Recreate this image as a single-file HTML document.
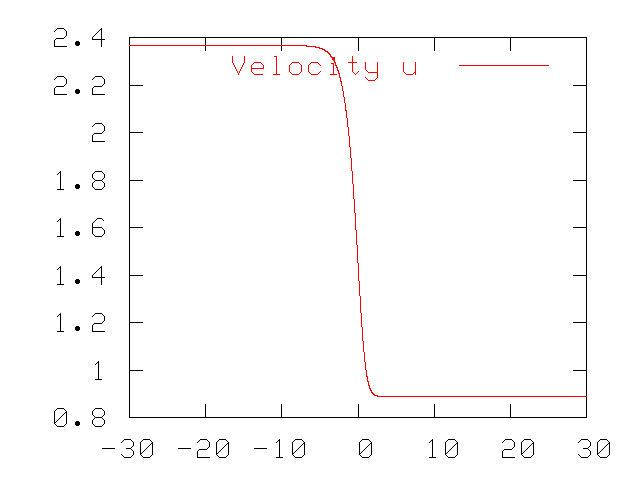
<!DOCTYPE html>
<html><head><meta charset="utf-8"><title>Velocity u</title>
<style>html,body{margin:0;padding:0;background:#fff;overflow:hidden}svg{display:block}</style></head>
<body><svg width="640" height="480" viewBox="0 0 640 480" shape-rendering="crispEdges">
<rect width="640" height="480" fill="#ffffff"/>
<path fill="#000000" d="M57 28h7v1h-7zM101 28h1v1h-1zM56 29h1v1h-1zM64 29h1v1h-1zM100 29h2v1h-2zM55 30h1v1h-1zM65 30h1v1h-1zM99 30h1v1h-1zM101 30h1v1h-1zM54 31h1v1h-1zM66 31h1v1h-1zM98 31h1v1h-1zM101 31h1v1h-1zM66 32h1v1h-1zM97 32h1v1h-1zM101 32h1v1h-1zM66 33h1v1h-1zM96 33h1v1h-1zM101 33h1v1h-1zM66 34h1v1h-1zM95 34h1v1h-1zM101 34h1v1h-1zM66 35h1v1h-1zM94 35h1v1h-1zM101 35h1v1h-1zM65 36h1v1h-1zM93 36h1v1h-1zM101 36h1v1h-1zM64 37h1v1h-1zM92 37h1v1h-1zM101 37h1v1h-1zM129 37h458v1h-458zM56 38h8v1h-8zM92 38h1v1h-1zM101 38h1v1h-1zM129 38h1v1h-1zM205 38h1v1h-1zM281 38h1v1h-1zM358 38h1v1h-1zM434 38h1v1h-1zM510 38h1v1h-1zM586 38h1v1h-1zM55 39h1v1h-1zM92 39h13v1h-13zM129 39h1v1h-1zM205 39h1v1h-1zM281 39h1v1h-1zM358 39h1v1h-1zM434 39h1v1h-1zM510 39h1v1h-1zM586 39h1v1h-1zM54 40h1v1h-1zM101 40h1v1h-1zM129 40h1v1h-1zM205 40h1v1h-1zM281 40h1v1h-1zM358 40h1v1h-1zM434 40h1v1h-1zM510 40h1v1h-1zM586 40h1v1h-1zM54 41h1v1h-1zM76 41h3v1h-3zM101 41h1v1h-1zM129 41h1v1h-1zM205 41h1v1h-1zM281 41h1v1h-1zM358 41h1v1h-1zM434 41h1v1h-1zM510 41h1v1h-1zM586 41h1v1h-1zM54 42h1v1h-1zM75 42h5v1h-5zM101 42h1v1h-1zM129 42h1v1h-1zM205 42h1v1h-1zM281 42h1v1h-1zM358 42h1v1h-1zM434 42h1v1h-1zM510 42h1v1h-1zM586 42h1v1h-1zM54 43h1v1h-1zM75 43h5v1h-5zM101 43h1v1h-1zM129 43h1v1h-1zM205 43h1v1h-1zM281 43h1v1h-1zM358 43h1v1h-1zM434 43h1v1h-1zM510 43h1v1h-1zM586 43h1v1h-1zM54 44h1v1h-1zM75 44h5v1h-5zM101 44h1v1h-1zM129 44h1v1h-1zM205 44h1v1h-1zM281 44h1v1h-1zM358 44h1v1h-1zM434 44h1v1h-1zM510 44h1v1h-1zM586 44h1v1h-1zM54 45h1v1h-1zM76 45h3v1h-3zM101 45h1v1h-1zM358 45h1v1h-1zM434 45h1v1h-1zM510 45h1v1h-1zM586 45h1v1h-1zM54 46h13v1h-13zM101 46h1v1h-1zM129 46h1v1h-1zM205 46h1v1h-1zM281 46h1v1h-1zM358 46h1v1h-1zM434 46h1v1h-1zM510 46h1v1h-1zM586 46h1v1h-1zM129 47h1v1h-1zM205 47h1v1h-1zM281 47h1v1h-1zM358 47h1v1h-1zM434 47h1v1h-1zM510 47h1v1h-1zM586 47h1v1h-1zM129 48h1v1h-1zM205 48h1v1h-1zM281 48h1v1h-1zM358 48h1v1h-1zM434 48h1v1h-1zM510 48h1v1h-1zM586 48h1v1h-1zM129 49h1v1h-1zM205 49h1v1h-1zM281 49h1v1h-1zM358 49h1v1h-1zM434 49h1v1h-1zM510 49h1v1h-1zM586 49h1v1h-1zM129 50h1v1h-1zM205 50h1v1h-1zM281 50h1v1h-1zM358 50h1v1h-1zM434 50h1v1h-1zM510 50h1v1h-1zM586 50h1v1h-1zM129 51h1v1h-1zM586 51h1v1h-1zM129 52h1v1h-1zM586 52h1v1h-1zM129 53h1v1h-1zM586 53h1v1h-1zM129 54h1v1h-1zM586 54h1v1h-1zM129 55h1v1h-1zM586 55h1v1h-1zM129 56h1v1h-1zM586 56h1v1h-1zM129 57h1v1h-1zM586 57h1v1h-1zM129 58h1v1h-1zM586 58h1v1h-1zM129 59h1v1h-1zM586 59h1v1h-1zM129 60h1v1h-1zM586 60h1v1h-1zM129 61h1v1h-1zM586 61h1v1h-1zM129 62h1v1h-1zM586 62h1v1h-1zM129 63h1v1h-1zM586 63h1v1h-1zM129 64h1v1h-1zM586 64h1v1h-1zM129 65h1v1h-1zM586 65h1v1h-1zM129 66h1v1h-1zM586 66h1v1h-1zM129 67h1v1h-1zM586 67h1v1h-1zM129 68h1v1h-1zM586 68h1v1h-1zM129 69h1v1h-1zM586 69h1v1h-1zM129 70h1v1h-1zM586 70h1v1h-1zM129 71h1v1h-1zM586 71h1v1h-1zM129 72h1v1h-1zM586 72h1v1h-1zM129 73h1v1h-1zM586 73h1v1h-1zM129 74h1v1h-1zM586 74h1v1h-1zM129 75h1v1h-1zM586 75h1v1h-1zM57 76h7v1h-7zM95 76h7v1h-7zM129 76h1v1h-1zM586 76h1v1h-1zM56 77h1v1h-1zM64 77h1v1h-1zM94 77h1v1h-1zM102 77h1v1h-1zM129 77h1v1h-1zM586 77h1v1h-1zM55 78h1v1h-1zM65 78h1v1h-1zM93 78h1v1h-1zM103 78h1v1h-1zM129 78h1v1h-1zM586 78h1v1h-1zM54 79h1v1h-1zM66 79h1v1h-1zM92 79h1v1h-1zM104 79h1v1h-1zM129 79h1v1h-1zM586 79h1v1h-1zM66 80h1v1h-1zM104 80h1v1h-1zM129 80h1v1h-1zM586 80h1v1h-1zM66 81h1v1h-1zM104 81h1v1h-1zM129 81h1v1h-1zM586 81h1v1h-1zM66 82h1v1h-1zM104 82h1v1h-1zM129 82h1v1h-1zM586 82h1v1h-1zM66 83h1v1h-1zM104 83h1v1h-1zM129 83h1v1h-1zM586 83h1v1h-1zM65 84h1v1h-1zM103 84h1v1h-1zM129 84h1v1h-1zM586 84h1v1h-1zM64 85h1v1h-1zM102 85h1v1h-1zM129 85h14v1h-14zM573 85h14v1h-14zM56 86h8v1h-8zM94 86h8v1h-8zM129 86h1v1h-1zM586 86h1v1h-1zM55 87h1v1h-1zM93 87h1v1h-1zM129 87h1v1h-1zM586 87h1v1h-1zM54 88h1v1h-1zM92 88h1v1h-1zM129 88h1v1h-1zM586 88h1v1h-1zM54 89h1v1h-1zM76 89h3v1h-3zM92 89h1v1h-1zM129 89h1v1h-1zM586 89h1v1h-1zM54 90h1v1h-1zM75 90h5v1h-5zM92 90h1v1h-1zM129 90h1v1h-1zM586 90h1v1h-1zM54 91h1v1h-1zM75 91h5v1h-5zM92 91h1v1h-1zM129 91h1v1h-1zM586 91h1v1h-1zM54 92h1v1h-1zM75 92h5v1h-5zM92 92h1v1h-1zM129 92h1v1h-1zM586 92h1v1h-1zM54 93h1v1h-1zM76 93h3v1h-3zM92 93h1v1h-1zM129 93h1v1h-1zM586 93h1v1h-1zM54 94h13v1h-13zM92 94h13v1h-13zM129 94h1v1h-1zM586 94h1v1h-1zM129 95h1v1h-1zM586 95h1v1h-1zM129 96h1v1h-1zM586 96h1v1h-1zM129 97h1v1h-1zM586 97h1v1h-1zM129 98h1v1h-1zM586 98h1v1h-1zM129 99h1v1h-1zM586 99h1v1h-1zM129 100h1v1h-1zM586 100h1v1h-1zM129 101h1v1h-1zM586 101h1v1h-1zM129 102h1v1h-1zM586 102h1v1h-1zM129 103h1v1h-1zM586 103h1v1h-1zM129 104h1v1h-1zM586 104h1v1h-1zM129 105h1v1h-1zM586 105h1v1h-1zM129 106h1v1h-1zM586 106h1v1h-1zM129 107h1v1h-1zM586 107h1v1h-1zM129 108h1v1h-1zM586 108h1v1h-1zM129 109h1v1h-1zM586 109h1v1h-1zM129 110h1v1h-1zM586 110h1v1h-1zM129 111h1v1h-1zM586 111h1v1h-1zM129 112h1v1h-1zM586 112h1v1h-1zM129 113h1v1h-1zM586 113h1v1h-1zM129 114h1v1h-1zM586 114h1v1h-1zM129 115h1v1h-1zM586 115h1v1h-1zM129 116h1v1h-1zM586 116h1v1h-1zM129 117h1v1h-1zM586 117h1v1h-1zM129 118h1v1h-1zM586 118h1v1h-1zM129 119h1v1h-1zM586 119h1v1h-1zM129 120h1v1h-1zM586 120h1v1h-1zM129 121h1v1h-1zM586 121h1v1h-1zM129 122h1v1h-1zM586 122h1v1h-1zM95 123h7v1h-7zM129 123h1v1h-1zM586 123h1v1h-1zM94 124h1v1h-1zM102 124h1v1h-1zM129 124h1v1h-1zM586 124h1v1h-1zM93 125h1v1h-1zM103 125h1v1h-1zM129 125h1v1h-1zM586 125h1v1h-1zM92 126h1v1h-1zM104 126h1v1h-1zM129 126h1v1h-1zM586 126h1v1h-1zM104 127h1v1h-1zM129 127h1v1h-1zM586 127h1v1h-1zM104 128h1v1h-1zM129 128h1v1h-1zM586 128h1v1h-1zM104 129h1v1h-1zM129 129h1v1h-1zM586 129h1v1h-1zM104 130h1v1h-1zM129 130h1v1h-1zM586 130h1v1h-1zM103 131h1v1h-1zM129 131h1v1h-1zM586 131h1v1h-1zM102 132h1v1h-1zM129 132h14v1h-14zM573 132h14v1h-14zM94 133h8v1h-8zM129 133h1v1h-1zM586 133h1v1h-1zM93 134h1v1h-1zM129 134h1v1h-1zM586 134h1v1h-1zM92 135h1v1h-1zM129 135h1v1h-1zM586 135h1v1h-1zM92 136h1v1h-1zM129 136h1v1h-1zM586 136h1v1h-1zM92 137h1v1h-1zM129 137h1v1h-1zM586 137h1v1h-1zM92 138h1v1h-1zM129 138h1v1h-1zM586 138h1v1h-1zM92 139h1v1h-1zM129 139h1v1h-1zM586 139h1v1h-1zM92 140h1v1h-1zM129 140h1v1h-1zM586 140h1v1h-1zM92 141h13v1h-13zM129 141h1v1h-1zM586 141h1v1h-1zM129 142h1v1h-1zM586 142h1v1h-1zM129 143h1v1h-1zM586 143h1v1h-1zM129 144h1v1h-1zM586 144h1v1h-1zM129 145h1v1h-1zM586 145h1v1h-1zM129 146h1v1h-1zM586 146h1v1h-1zM129 147h1v1h-1zM586 147h1v1h-1zM129 148h1v1h-1zM586 148h1v1h-1zM129 149h1v1h-1zM586 149h1v1h-1zM129 150h1v1h-1zM586 150h1v1h-1zM129 151h1v1h-1zM586 151h1v1h-1zM129 152h1v1h-1zM586 152h1v1h-1zM129 153h1v1h-1zM586 153h1v1h-1zM129 154h1v1h-1zM586 154h1v1h-1zM129 155h1v1h-1zM586 155h1v1h-1zM129 156h1v1h-1zM586 156h1v1h-1zM129 157h1v1h-1zM586 157h1v1h-1zM129 158h1v1h-1zM586 158h1v1h-1zM129 159h1v1h-1zM586 159h1v1h-1zM129 160h1v1h-1zM586 160h1v1h-1zM129 161h1v1h-1zM586 161h1v1h-1zM129 162h1v1h-1zM586 162h1v1h-1zM129 163h1v1h-1zM586 163h1v1h-1zM129 164h1v1h-1zM586 164h1v1h-1zM129 165h1v1h-1zM586 165h1v1h-1zM129 166h1v1h-1zM586 166h1v1h-1zM129 167h1v1h-1zM586 167h1v1h-1zM129 168h1v1h-1zM586 168h1v1h-1zM129 169h1v1h-1zM586 169h1v1h-1zM129 170h1v1h-1zM586 170h1v1h-1zM60 171h1v1h-1zM95 171h7v1h-7zM129 171h1v1h-1zM586 171h1v1h-1zM59 172h2v1h-2zM94 172h1v1h-1zM102 172h1v1h-1zM129 172h1v1h-1zM586 172h1v1h-1zM58 173h1v1h-1zM60 173h1v1h-1zM93 173h1v1h-1zM103 173h1v1h-1zM129 173h1v1h-1zM586 173h1v1h-1zM57 174h1v1h-1zM60 174h1v1h-1zM92 174h1v1h-1zM104 174h1v1h-1zM129 174h1v1h-1zM586 174h1v1h-1zM60 175h1v1h-1zM92 175h1v1h-1zM104 175h1v1h-1zM129 175h1v1h-1zM586 175h1v1h-1zM60 176h1v1h-1zM92 176h1v1h-1zM104 176h1v1h-1zM129 176h1v1h-1zM586 176h1v1h-1zM60 177h1v1h-1zM92 177h1v1h-1zM104 177h1v1h-1zM129 177h1v1h-1zM586 177h1v1h-1zM60 178h1v1h-1zM93 178h1v1h-1zM103 178h1v1h-1zM129 178h1v1h-1zM586 178h1v1h-1zM60 179h1v1h-1zM94 179h1v1h-1zM102 179h1v1h-1zM129 179h1v1h-1zM586 179h1v1h-1zM60 180h1v1h-1zM95 180h7v1h-7zM129 180h14v1h-14zM573 180h14v1h-14zM60 181h1v1h-1zM94 181h1v1h-1zM102 181h1v1h-1zM129 181h1v1h-1zM586 181h1v1h-1zM60 182h1v1h-1zM93 182h1v1h-1zM103 182h1v1h-1zM129 182h1v1h-1zM586 182h1v1h-1zM60 183h1v1h-1zM92 183h1v1h-1zM104 183h1v1h-1zM129 183h1v1h-1zM586 183h1v1h-1zM60 184h1v1h-1zM76 184h3v1h-3zM92 184h1v1h-1zM104 184h1v1h-1zM129 184h1v1h-1zM586 184h1v1h-1zM60 185h1v1h-1zM75 185h5v1h-5zM92 185h1v1h-1zM104 185h1v1h-1zM129 185h1v1h-1zM586 185h1v1h-1zM60 186h1v1h-1zM75 186h5v1h-5zM92 186h1v1h-1zM104 186h1v1h-1zM129 186h1v1h-1zM586 186h1v1h-1zM60 187h1v1h-1zM75 187h5v1h-5zM93 187h1v1h-1zM103 187h1v1h-1zM129 187h1v1h-1zM586 187h1v1h-1zM60 188h1v1h-1zM76 188h3v1h-3zM94 188h1v1h-1zM102 188h1v1h-1zM129 188h1v1h-1zM586 188h1v1h-1zM57 189h7v1h-7zM95 189h7v1h-7zM129 189h1v1h-1zM586 189h1v1h-1zM129 190h1v1h-1zM586 190h1v1h-1zM129 191h1v1h-1zM586 191h1v1h-1zM129 192h1v1h-1zM586 192h1v1h-1zM129 193h1v1h-1zM586 193h1v1h-1zM129 194h1v1h-1zM586 194h1v1h-1zM129 195h1v1h-1zM586 195h1v1h-1zM129 196h1v1h-1zM586 196h1v1h-1zM129 197h1v1h-1zM586 197h1v1h-1zM129 198h1v1h-1zM586 198h1v1h-1zM129 199h1v1h-1zM586 199h1v1h-1zM129 200h1v1h-1zM586 200h1v1h-1zM129 201h1v1h-1zM586 201h1v1h-1zM129 202h1v1h-1zM586 202h1v1h-1zM129 203h1v1h-1zM586 203h1v1h-1zM129 204h1v1h-1zM586 204h1v1h-1zM129 205h1v1h-1zM586 205h1v1h-1zM129 206h1v1h-1zM586 206h1v1h-1zM129 207h1v1h-1zM586 207h1v1h-1zM129 208h1v1h-1zM586 208h1v1h-1zM129 209h1v1h-1zM586 209h1v1h-1zM129 210h1v1h-1zM586 210h1v1h-1zM129 211h1v1h-1zM586 211h1v1h-1zM129 212h1v1h-1zM586 212h1v1h-1zM129 213h1v1h-1zM586 213h1v1h-1zM129 214h1v1h-1zM586 214h1v1h-1zM129 215h1v1h-1zM586 215h1v1h-1zM129 216h1v1h-1zM586 216h1v1h-1zM129 217h1v1h-1zM586 217h1v1h-1zM60 218h1v1h-1zM97 218h5v1h-5zM129 218h1v1h-1zM586 218h1v1h-1zM59 219h2v1h-2zM96 219h1v1h-1zM102 219h1v1h-1zM129 219h1v1h-1zM586 219h1v1h-1zM58 220h1v1h-1zM60 220h1v1h-1zM95 220h1v1h-1zM103 220h1v1h-1zM129 220h1v1h-1zM586 220h1v1h-1zM57 221h1v1h-1zM60 221h1v1h-1zM94 221h1v1h-1zM129 221h1v1h-1zM586 221h1v1h-1zM60 222h1v1h-1zM93 222h1v1h-1zM129 222h1v1h-1zM586 222h1v1h-1zM60 223h1v1h-1zM92 223h1v1h-1zM129 223h1v1h-1zM586 223h1v1h-1zM60 224h1v1h-1zM92 224h1v1h-1zM129 224h1v1h-1zM586 224h1v1h-1zM60 225h1v1h-1zM92 225h1v1h-1zM129 225h1v1h-1zM586 225h1v1h-1zM60 226h1v1h-1zM92 226h1v1h-1zM129 226h1v1h-1zM586 226h1v1h-1zM60 227h1v1h-1zM92 227h10v1h-10zM129 227h14v1h-14zM573 227h14v1h-14zM60 228h1v1h-1zM92 228h1v1h-1zM102 228h1v1h-1zM129 228h1v1h-1zM586 228h1v1h-1zM60 229h1v1h-1zM92 229h1v1h-1zM103 229h1v1h-1zM129 229h1v1h-1zM586 229h1v1h-1zM60 230h1v1h-1zM92 230h1v1h-1zM104 230h1v1h-1zM129 230h1v1h-1zM586 230h1v1h-1zM60 231h1v1h-1zM76 231h3v1h-3zM92 231h1v1h-1zM104 231h1v1h-1zM129 231h1v1h-1zM586 231h1v1h-1zM60 232h1v1h-1zM75 232h5v1h-5zM92 232h1v1h-1zM104 232h1v1h-1zM129 232h1v1h-1zM586 232h1v1h-1zM60 233h1v1h-1zM75 233h5v1h-5zM92 233h1v1h-1zM104 233h1v1h-1zM129 233h1v1h-1zM586 233h1v1h-1zM60 234h1v1h-1zM75 234h5v1h-5zM93 234h1v1h-1zM103 234h1v1h-1zM129 234h1v1h-1zM586 234h1v1h-1zM60 235h1v1h-1zM76 235h3v1h-3zM94 235h1v1h-1zM102 235h1v1h-1zM129 235h1v1h-1zM586 235h1v1h-1zM57 236h7v1h-7zM95 236h7v1h-7zM129 236h1v1h-1zM586 236h1v1h-1zM129 237h1v1h-1zM586 237h1v1h-1zM129 238h1v1h-1zM586 238h1v1h-1zM129 239h1v1h-1zM586 239h1v1h-1zM129 240h1v1h-1zM586 240h1v1h-1zM129 241h1v1h-1zM586 241h1v1h-1zM129 242h1v1h-1zM586 242h1v1h-1zM129 243h1v1h-1zM586 243h1v1h-1zM129 244h1v1h-1zM586 244h1v1h-1zM129 245h1v1h-1zM586 245h1v1h-1zM129 246h1v1h-1zM586 246h1v1h-1zM129 247h1v1h-1zM586 247h1v1h-1zM129 248h1v1h-1zM586 248h1v1h-1zM129 249h1v1h-1zM586 249h1v1h-1zM129 250h1v1h-1zM586 250h1v1h-1zM129 251h1v1h-1zM586 251h1v1h-1zM129 252h1v1h-1zM586 252h1v1h-1zM129 253h1v1h-1zM586 253h1v1h-1zM129 254h1v1h-1zM586 254h1v1h-1zM129 255h1v1h-1zM586 255h1v1h-1zM129 256h1v1h-1zM586 256h1v1h-1zM129 257h1v1h-1zM586 257h1v1h-1zM129 258h1v1h-1zM586 258h1v1h-1zM129 259h1v1h-1zM586 259h1v1h-1zM129 260h1v1h-1zM586 260h1v1h-1zM129 261h1v1h-1zM586 261h1v1h-1zM129 262h1v1h-1zM586 262h1v1h-1zM129 263h1v1h-1zM586 263h1v1h-1zM129 264h1v1h-1zM586 264h1v1h-1zM129 265h1v1h-1zM586 265h1v1h-1zM60 266h1v1h-1zM101 266h1v1h-1zM129 266h1v1h-1zM586 266h1v1h-1zM59 267h2v1h-2zM100 267h2v1h-2zM129 267h1v1h-1zM586 267h1v1h-1zM58 268h1v1h-1zM60 268h1v1h-1zM99 268h1v1h-1zM101 268h1v1h-1zM129 268h1v1h-1zM586 268h1v1h-1zM57 269h1v1h-1zM60 269h1v1h-1zM98 269h1v1h-1zM101 269h1v1h-1zM129 269h1v1h-1zM586 269h1v1h-1zM60 270h1v1h-1zM97 270h1v1h-1zM101 270h1v1h-1zM129 270h1v1h-1zM586 270h1v1h-1zM60 271h1v1h-1zM96 271h1v1h-1zM101 271h1v1h-1zM129 271h1v1h-1zM586 271h1v1h-1zM60 272h1v1h-1zM95 272h1v1h-1zM101 272h1v1h-1zM129 272h1v1h-1zM586 272h1v1h-1zM60 273h1v1h-1zM94 273h1v1h-1zM101 273h1v1h-1zM129 273h1v1h-1zM586 273h1v1h-1zM60 274h1v1h-1zM93 274h1v1h-1zM101 274h1v1h-1zM129 274h1v1h-1zM586 274h1v1h-1zM60 275h1v1h-1zM92 275h1v1h-1zM101 275h1v1h-1zM129 275h14v1h-14zM573 275h14v1h-14zM60 276h1v1h-1zM92 276h1v1h-1zM101 276h1v1h-1zM129 276h1v1h-1zM586 276h1v1h-1zM60 277h1v1h-1zM92 277h13v1h-13zM129 277h1v1h-1zM586 277h1v1h-1zM60 278h1v1h-1zM101 278h1v1h-1zM129 278h1v1h-1zM586 278h1v1h-1zM60 279h1v1h-1zM76 279h3v1h-3zM101 279h1v1h-1zM129 279h1v1h-1zM586 279h1v1h-1zM60 280h1v1h-1zM75 280h5v1h-5zM101 280h1v1h-1zM129 280h1v1h-1zM586 280h1v1h-1zM60 281h1v1h-1zM75 281h5v1h-5zM101 281h1v1h-1zM129 281h1v1h-1zM586 281h1v1h-1zM60 282h1v1h-1zM75 282h5v1h-5zM101 282h1v1h-1zM129 282h1v1h-1zM586 282h1v1h-1zM60 283h1v1h-1zM76 283h3v1h-3zM101 283h1v1h-1zM129 283h1v1h-1zM586 283h1v1h-1zM57 284h7v1h-7zM101 284h1v1h-1zM129 284h1v1h-1zM586 284h1v1h-1zM129 285h1v1h-1zM586 285h1v1h-1zM129 286h1v1h-1zM586 286h1v1h-1zM129 287h1v1h-1zM586 287h1v1h-1zM129 288h1v1h-1zM586 288h1v1h-1zM129 289h1v1h-1zM586 289h1v1h-1zM129 290h1v1h-1zM586 290h1v1h-1zM129 291h1v1h-1zM586 291h1v1h-1zM129 292h1v1h-1zM586 292h1v1h-1zM129 293h1v1h-1zM586 293h1v1h-1zM129 294h1v1h-1zM586 294h1v1h-1zM129 295h1v1h-1zM586 295h1v1h-1zM129 296h1v1h-1zM586 296h1v1h-1zM129 297h1v1h-1zM586 297h1v1h-1zM129 298h1v1h-1zM586 298h1v1h-1zM129 299h1v1h-1zM586 299h1v1h-1zM129 300h1v1h-1zM586 300h1v1h-1zM129 301h1v1h-1zM586 301h1v1h-1zM129 302h1v1h-1zM586 302h1v1h-1zM129 303h1v1h-1zM586 303h1v1h-1zM129 304h1v1h-1zM586 304h1v1h-1zM129 305h1v1h-1zM586 305h1v1h-1zM129 306h1v1h-1zM586 306h1v1h-1zM129 307h1v1h-1zM586 307h1v1h-1zM129 308h1v1h-1zM586 308h1v1h-1zM129 309h1v1h-1zM586 309h1v1h-1zM129 310h1v1h-1zM586 310h1v1h-1zM129 311h1v1h-1zM586 311h1v1h-1zM129 312h1v1h-1zM586 312h1v1h-1zM60 313h1v1h-1zM95 313h7v1h-7zM129 313h1v1h-1zM586 313h1v1h-1zM59 314h2v1h-2zM94 314h1v1h-1zM102 314h1v1h-1zM129 314h1v1h-1zM586 314h1v1h-1zM58 315h1v1h-1zM60 315h1v1h-1zM93 315h1v1h-1zM103 315h1v1h-1zM129 315h1v1h-1zM586 315h1v1h-1zM57 316h1v1h-1zM60 316h1v1h-1zM92 316h1v1h-1zM104 316h1v1h-1zM129 316h1v1h-1zM586 316h1v1h-1zM60 317h1v1h-1zM104 317h1v1h-1zM129 317h1v1h-1zM586 317h1v1h-1zM60 318h1v1h-1zM104 318h1v1h-1zM129 318h1v1h-1zM586 318h1v1h-1zM60 319h1v1h-1zM104 319h1v1h-1zM129 319h1v1h-1zM586 319h1v1h-1zM60 320h1v1h-1zM104 320h1v1h-1zM129 320h1v1h-1zM586 320h1v1h-1zM60 321h1v1h-1zM103 321h1v1h-1zM129 321h1v1h-1zM586 321h1v1h-1zM60 322h1v1h-1zM102 322h1v1h-1zM129 322h14v1h-14zM573 322h14v1h-14zM60 323h1v1h-1zM94 323h8v1h-8zM129 323h1v1h-1zM586 323h1v1h-1zM60 324h1v1h-1zM93 324h1v1h-1zM129 324h1v1h-1zM586 324h1v1h-1zM60 325h1v1h-1zM92 325h1v1h-1zM129 325h1v1h-1zM586 325h1v1h-1zM60 326h1v1h-1zM76 326h3v1h-3zM92 326h1v1h-1zM129 326h1v1h-1zM586 326h1v1h-1zM60 327h1v1h-1zM75 327h5v1h-5zM92 327h1v1h-1zM129 327h1v1h-1zM586 327h1v1h-1zM60 328h1v1h-1zM75 328h5v1h-5zM92 328h1v1h-1zM129 328h1v1h-1zM586 328h1v1h-1zM60 329h1v1h-1zM75 329h5v1h-5zM92 329h1v1h-1zM129 329h1v1h-1zM586 329h1v1h-1zM60 330h1v1h-1zM76 330h3v1h-3zM92 330h1v1h-1zM129 330h1v1h-1zM586 330h1v1h-1zM57 331h7v1h-7zM92 331h13v1h-13zM129 331h1v1h-1zM586 331h1v1h-1zM129 332h1v1h-1zM586 332h1v1h-1zM129 333h1v1h-1zM586 333h1v1h-1zM129 334h1v1h-1zM586 334h1v1h-1zM129 335h1v1h-1zM586 335h1v1h-1zM129 336h1v1h-1zM586 336h1v1h-1zM129 337h1v1h-1zM586 337h1v1h-1zM129 338h1v1h-1zM586 338h1v1h-1zM129 339h1v1h-1zM586 339h1v1h-1zM129 340h1v1h-1zM586 340h1v1h-1zM129 341h1v1h-1zM586 341h1v1h-1zM129 342h1v1h-1zM586 342h1v1h-1zM129 343h1v1h-1zM586 343h1v1h-1zM129 344h1v1h-1zM586 344h1v1h-1zM129 345h1v1h-1zM586 345h1v1h-1zM129 346h1v1h-1zM586 346h1v1h-1zM129 347h1v1h-1zM586 347h1v1h-1zM129 348h1v1h-1zM586 348h1v1h-1zM129 349h1v1h-1zM586 349h1v1h-1zM129 350h1v1h-1zM586 350h1v1h-1zM129 351h1v1h-1zM586 351h1v1h-1zM129 352h1v1h-1zM586 352h1v1h-1zM129 353h1v1h-1zM586 353h1v1h-1zM129 354h1v1h-1zM586 354h1v1h-1zM129 355h1v1h-1zM586 355h1v1h-1zM129 356h1v1h-1zM586 356h1v1h-1zM129 357h1v1h-1zM586 357h1v1h-1zM129 358h1v1h-1zM586 358h1v1h-1zM129 359h1v1h-1zM586 359h1v1h-1zM129 360h1v1h-1zM586 360h1v1h-1zM98 361h1v1h-1zM129 361h1v1h-1zM586 361h1v1h-1zM97 362h2v1h-2zM129 362h1v1h-1zM586 362h1v1h-1zM96 363h1v1h-1zM98 363h1v1h-1zM129 363h1v1h-1zM586 363h1v1h-1zM95 364h1v1h-1zM98 364h1v1h-1zM129 364h1v1h-1zM586 364h1v1h-1zM98 365h1v1h-1zM129 365h1v1h-1zM586 365h1v1h-1zM98 366h1v1h-1zM129 366h1v1h-1zM586 366h1v1h-1zM98 367h1v1h-1zM129 367h1v1h-1zM586 367h1v1h-1zM98 368h1v1h-1zM129 368h1v1h-1zM586 368h1v1h-1zM98 369h1v1h-1zM129 369h1v1h-1zM586 369h1v1h-1zM98 370h1v1h-1zM129 370h14v1h-14zM573 370h14v1h-14zM98 371h1v1h-1zM129 371h1v1h-1zM586 371h1v1h-1zM98 372h1v1h-1zM129 372h1v1h-1zM586 372h1v1h-1zM98 373h1v1h-1zM129 373h1v1h-1zM586 373h1v1h-1zM98 374h1v1h-1zM129 374h1v1h-1zM586 374h1v1h-1zM98 375h1v1h-1zM129 375h1v1h-1zM586 375h1v1h-1zM98 376h1v1h-1zM129 376h1v1h-1zM586 376h1v1h-1zM98 377h1v1h-1zM129 377h1v1h-1zM586 377h1v1h-1zM98 378h1v1h-1zM129 378h1v1h-1zM586 378h1v1h-1zM95 379h7v1h-7zM129 379h1v1h-1zM586 379h1v1h-1zM129 380h1v1h-1zM586 380h1v1h-1zM129 381h1v1h-1zM586 381h1v1h-1zM129 382h1v1h-1zM586 382h1v1h-1zM129 383h1v1h-1zM586 383h1v1h-1zM129 384h1v1h-1zM586 384h1v1h-1zM129 385h1v1h-1zM586 385h1v1h-1zM129 386h1v1h-1zM586 386h1v1h-1zM129 387h1v1h-1zM586 387h1v1h-1zM129 388h1v1h-1zM586 388h1v1h-1zM129 389h1v1h-1zM586 389h1v1h-1zM129 390h1v1h-1zM586 390h1v1h-1zM129 391h1v1h-1zM586 391h1v1h-1zM129 392h1v1h-1zM586 392h1v1h-1zM129 393h1v1h-1zM586 393h1v1h-1zM129 394h1v1h-1zM586 394h1v1h-1zM129 395h1v1h-1zM586 395h1v1h-1zM129 396h1v1h-1zM129 397h1v1h-1zM586 397h1v1h-1zM129 398h1v1h-1zM586 398h1v1h-1zM129 399h1v1h-1zM586 399h1v1h-1zM129 400h1v1h-1zM586 400h1v1h-1zM129 401h1v1h-1zM586 401h1v1h-1zM129 402h1v1h-1zM586 402h1v1h-1zM129 403h1v1h-1zM586 403h1v1h-1zM129 404h1v1h-1zM205 404h1v1h-1zM281 404h1v1h-1zM358 404h1v1h-1zM434 404h1v1h-1zM510 404h1v1h-1zM586 404h1v1h-1zM129 405h1v1h-1zM205 405h1v1h-1zM281 405h1v1h-1zM358 405h1v1h-1zM434 405h1v1h-1zM510 405h1v1h-1zM586 405h1v1h-1zM129 406h1v1h-1zM205 406h1v1h-1zM281 406h1v1h-1zM358 406h1v1h-1zM434 406h1v1h-1zM510 406h1v1h-1zM586 406h1v1h-1zM129 407h1v1h-1zM205 407h1v1h-1zM281 407h1v1h-1zM358 407h1v1h-1zM434 407h1v1h-1zM510 407h1v1h-1zM586 407h1v1h-1zM57 408h7v1h-7zM95 408h7v1h-7zM129 408h1v1h-1zM205 408h1v1h-1zM281 408h1v1h-1zM358 408h1v1h-1zM434 408h1v1h-1zM510 408h1v1h-1zM586 408h1v1h-1zM56 409h1v1h-1zM64 409h1v1h-1zM94 409h1v1h-1zM102 409h1v1h-1zM129 409h1v1h-1zM205 409h1v1h-1zM281 409h1v1h-1zM358 409h1v1h-1zM434 409h1v1h-1zM510 409h1v1h-1zM586 409h1v1h-1zM55 410h1v1h-1zM65 410h1v1h-1zM93 410h1v1h-1zM103 410h1v1h-1zM129 410h1v1h-1zM205 410h1v1h-1zM281 410h1v1h-1zM358 410h1v1h-1zM434 410h1v1h-1zM510 410h1v1h-1zM586 410h1v1h-1zM54 411h1v1h-1zM66 411h1v1h-1zM92 411h1v1h-1zM104 411h1v1h-1zM129 411h1v1h-1zM205 411h1v1h-1zM281 411h1v1h-1zM358 411h1v1h-1zM434 411h1v1h-1zM510 411h1v1h-1zM586 411h1v1h-1zM54 412h1v1h-1zM65 412h2v1h-2zM92 412h1v1h-1zM104 412h1v1h-1zM129 412h1v1h-1zM205 412h1v1h-1zM281 412h1v1h-1zM358 412h1v1h-1zM434 412h1v1h-1zM510 412h1v1h-1zM586 412h1v1h-1zM54 413h1v1h-1zM64 413h1v1h-1zM66 413h1v1h-1zM92 413h1v1h-1zM104 413h1v1h-1zM129 413h1v1h-1zM205 413h1v1h-1zM281 413h1v1h-1zM358 413h1v1h-1zM434 413h1v1h-1zM510 413h1v1h-1zM586 413h1v1h-1zM54 414h1v1h-1zM63 414h1v1h-1zM66 414h1v1h-1zM92 414h1v1h-1zM104 414h1v1h-1zM129 414h1v1h-1zM205 414h1v1h-1zM281 414h1v1h-1zM358 414h1v1h-1zM434 414h1v1h-1zM510 414h1v1h-1zM586 414h1v1h-1zM54 415h1v1h-1zM62 415h1v1h-1zM66 415h1v1h-1zM93 415h1v1h-1zM103 415h1v1h-1zM129 415h1v1h-1zM205 415h1v1h-1zM281 415h1v1h-1zM358 415h1v1h-1zM434 415h1v1h-1zM510 415h1v1h-1zM586 415h1v1h-1zM54 416h1v1h-1zM61 416h1v1h-1zM66 416h1v1h-1zM94 416h1v1h-1zM102 416h1v1h-1zM129 416h1v1h-1zM205 416h1v1h-1zM281 416h1v1h-1zM358 416h1v1h-1zM434 416h1v1h-1zM510 416h1v1h-1zM586 416h1v1h-1zM54 417h1v1h-1zM60 417h1v1h-1zM66 417h1v1h-1zM95 417h7v1h-7zM129 417h458v1h-458zM54 418h1v1h-1zM59 418h1v1h-1zM66 418h1v1h-1zM94 418h1v1h-1zM102 418h1v1h-1zM54 419h1v1h-1zM58 419h1v1h-1zM66 419h1v1h-1zM93 419h1v1h-1zM103 419h1v1h-1zM54 420h1v1h-1zM57 420h1v1h-1zM66 420h1v1h-1zM92 420h1v1h-1zM104 420h1v1h-1zM54 421h1v1h-1zM56 421h1v1h-1zM66 421h1v1h-1zM76 421h3v1h-3zM92 421h1v1h-1zM104 421h1v1h-1zM54 422h2v1h-2zM66 422h1v1h-1zM75 422h5v1h-5zM92 422h1v1h-1zM104 422h1v1h-1zM54 423h1v1h-1zM66 423h1v1h-1zM75 423h5v1h-5zM92 423h1v1h-1zM104 423h1v1h-1zM55 424h1v1h-1zM65 424h1v1h-1zM75 424h5v1h-5zM93 424h1v1h-1zM103 424h1v1h-1zM56 425h1v1h-1zM64 425h1v1h-1zM76 425h3v1h-3zM94 425h1v1h-1zM102 425h1v1h-1zM57 426h7v1h-7zM95 426h7v1h-7zM124 439h7v1h-7zM143 439h7v1h-7zM200 439h7v1h-7zM219 439h7v1h-7zM279 439h1v1h-1zM295 439h7v1h-7zM362 439h7v1h-7zM432 439h1v1h-1zM448 439h7v1h-7zM505 439h7v1h-7zM524 439h7v1h-7zM581 439h7v1h-7zM600 439h7v1h-7zM123 440h1v1h-1zM131 440h1v1h-1zM142 440h1v1h-1zM150 440h1v1h-1zM199 440h1v1h-1zM207 440h1v1h-1zM218 440h1v1h-1zM226 440h1v1h-1zM278 440h2v1h-2zM294 440h1v1h-1zM302 440h1v1h-1zM361 440h1v1h-1zM369 440h1v1h-1zM431 440h2v1h-2zM447 440h1v1h-1zM455 440h1v1h-1zM504 440h1v1h-1zM512 440h1v1h-1zM523 440h1v1h-1zM531 440h1v1h-1zM580 440h1v1h-1zM588 440h1v1h-1zM599 440h1v1h-1zM607 440h1v1h-1zM122 441h1v1h-1zM132 441h1v1h-1zM141 441h1v1h-1zM151 441h1v1h-1zM198 441h1v1h-1zM208 441h1v1h-1zM217 441h1v1h-1zM227 441h1v1h-1zM277 441h1v1h-1zM279 441h1v1h-1zM293 441h1v1h-1zM303 441h1v1h-1zM360 441h1v1h-1zM370 441h1v1h-1zM430 441h1v1h-1zM432 441h1v1h-1zM446 441h1v1h-1zM456 441h1v1h-1zM503 441h1v1h-1zM513 441h1v1h-1zM522 441h1v1h-1zM532 441h1v1h-1zM579 441h1v1h-1zM589 441h1v1h-1zM598 441h1v1h-1zM608 441h1v1h-1zM121 442h1v1h-1zM133 442h1v1h-1zM140 442h1v1h-1zM152 442h1v1h-1zM197 442h1v1h-1zM209 442h1v1h-1zM216 442h1v1h-1zM228 442h1v1h-1zM276 442h1v1h-1zM279 442h1v1h-1zM292 442h1v1h-1zM304 442h1v1h-1zM359 442h1v1h-1zM371 442h1v1h-1zM429 442h1v1h-1zM432 442h1v1h-1zM445 442h1v1h-1zM457 442h1v1h-1zM502 442h1v1h-1zM514 442h1v1h-1zM521 442h1v1h-1zM533 442h1v1h-1zM578 442h1v1h-1zM590 442h1v1h-1zM597 442h1v1h-1zM609 442h1v1h-1zM133 443h1v1h-1zM140 443h1v1h-1zM151 443h2v1h-2zM209 443h1v1h-1zM216 443h1v1h-1zM227 443h2v1h-2zM279 443h1v1h-1zM292 443h1v1h-1zM303 443h2v1h-2zM359 443h1v1h-1zM370 443h2v1h-2zM432 443h1v1h-1zM445 443h1v1h-1zM456 443h2v1h-2zM514 443h1v1h-1zM521 443h1v1h-1zM532 443h2v1h-2zM590 443h1v1h-1zM597 443h1v1h-1zM608 443h2v1h-2zM133 444h1v1h-1zM140 444h1v1h-1zM150 444h1v1h-1zM152 444h1v1h-1zM209 444h1v1h-1zM216 444h1v1h-1zM226 444h1v1h-1zM228 444h1v1h-1zM279 444h1v1h-1zM292 444h1v1h-1zM302 444h1v1h-1zM304 444h1v1h-1zM359 444h1v1h-1zM369 444h1v1h-1zM371 444h1v1h-1zM432 444h1v1h-1zM445 444h1v1h-1zM455 444h1v1h-1zM457 444h1v1h-1zM514 444h1v1h-1zM521 444h1v1h-1zM531 444h1v1h-1zM533 444h1v1h-1zM590 444h1v1h-1zM597 444h1v1h-1zM607 444h1v1h-1zM609 444h1v1h-1zM133 445h1v1h-1zM140 445h1v1h-1zM149 445h1v1h-1zM152 445h1v1h-1zM209 445h1v1h-1zM216 445h1v1h-1zM225 445h1v1h-1zM228 445h1v1h-1zM279 445h1v1h-1zM292 445h1v1h-1zM301 445h1v1h-1zM304 445h1v1h-1zM359 445h1v1h-1zM368 445h1v1h-1zM371 445h1v1h-1zM432 445h1v1h-1zM445 445h1v1h-1zM454 445h1v1h-1zM457 445h1v1h-1zM514 445h1v1h-1zM521 445h1v1h-1zM530 445h1v1h-1zM533 445h1v1h-1zM590 445h1v1h-1zM597 445h1v1h-1zM606 445h1v1h-1zM609 445h1v1h-1zM132 446h1v1h-1zM140 446h1v1h-1zM148 446h1v1h-1zM152 446h1v1h-1zM209 446h1v1h-1zM216 446h1v1h-1zM224 446h1v1h-1zM228 446h1v1h-1zM279 446h1v1h-1zM292 446h1v1h-1zM300 446h1v1h-1zM304 446h1v1h-1zM359 446h1v1h-1zM367 446h1v1h-1zM371 446h1v1h-1zM432 446h1v1h-1zM445 446h1v1h-1zM453 446h1v1h-1zM457 446h1v1h-1zM514 446h1v1h-1zM521 446h1v1h-1zM529 446h1v1h-1zM533 446h1v1h-1zM589 446h1v1h-1zM597 446h1v1h-1zM605 446h1v1h-1zM609 446h1v1h-1zM131 447h1v1h-1zM140 447h1v1h-1zM147 447h1v1h-1zM152 447h1v1h-1zM208 447h1v1h-1zM216 447h1v1h-1zM223 447h1v1h-1zM228 447h1v1h-1zM279 447h1v1h-1zM292 447h1v1h-1zM299 447h1v1h-1zM304 447h1v1h-1zM359 447h1v1h-1zM366 447h1v1h-1zM371 447h1v1h-1zM432 447h1v1h-1zM445 447h1v1h-1zM452 447h1v1h-1zM457 447h1v1h-1zM513 447h1v1h-1zM521 447h1v1h-1zM528 447h1v1h-1zM533 447h1v1h-1zM588 447h1v1h-1zM597 447h1v1h-1zM604 447h1v1h-1zM609 447h1v1h-1zM102 448h13v1h-13zM126 448h5v1h-5zM140 448h1v1h-1zM146 448h1v1h-1zM152 448h1v1h-1zM178 448h13v1h-13zM207 448h1v1h-1zM216 448h1v1h-1zM222 448h1v1h-1zM228 448h1v1h-1zM254 448h13v1h-13zM279 448h1v1h-1zM292 448h1v1h-1zM298 448h1v1h-1zM304 448h1v1h-1zM359 448h1v1h-1zM365 448h1v1h-1zM371 448h1v1h-1zM432 448h1v1h-1zM445 448h1v1h-1zM451 448h1v1h-1zM457 448h1v1h-1zM512 448h1v1h-1zM521 448h1v1h-1zM527 448h1v1h-1zM533 448h1v1h-1zM583 448h5v1h-5zM597 448h1v1h-1zM603 448h1v1h-1zM609 448h1v1h-1zM131 449h1v1h-1zM140 449h1v1h-1zM145 449h1v1h-1zM152 449h1v1h-1zM199 449h8v1h-8zM216 449h1v1h-1zM221 449h1v1h-1zM228 449h1v1h-1zM279 449h1v1h-1zM292 449h1v1h-1zM297 449h1v1h-1zM304 449h1v1h-1zM359 449h1v1h-1zM364 449h1v1h-1zM371 449h1v1h-1zM432 449h1v1h-1zM445 449h1v1h-1zM450 449h1v1h-1zM457 449h1v1h-1zM504 449h8v1h-8zM521 449h1v1h-1zM526 449h1v1h-1zM533 449h1v1h-1zM588 449h1v1h-1zM597 449h1v1h-1zM602 449h1v1h-1zM609 449h1v1h-1zM132 450h1v1h-1zM140 450h1v1h-1zM144 450h1v1h-1zM152 450h1v1h-1zM198 450h1v1h-1zM216 450h1v1h-1zM220 450h1v1h-1zM228 450h1v1h-1zM279 450h1v1h-1zM292 450h1v1h-1zM296 450h1v1h-1zM304 450h1v1h-1zM359 450h1v1h-1zM363 450h1v1h-1zM371 450h1v1h-1zM432 450h1v1h-1zM445 450h1v1h-1zM449 450h1v1h-1zM457 450h1v1h-1zM503 450h1v1h-1zM521 450h1v1h-1zM525 450h1v1h-1zM533 450h1v1h-1zM589 450h1v1h-1zM597 450h1v1h-1zM601 450h1v1h-1zM609 450h1v1h-1zM133 451h1v1h-1zM140 451h1v1h-1zM143 451h1v1h-1zM152 451h1v1h-1zM197 451h1v1h-1zM216 451h1v1h-1zM219 451h1v1h-1zM228 451h1v1h-1zM279 451h1v1h-1zM292 451h1v1h-1zM295 451h1v1h-1zM304 451h1v1h-1zM359 451h1v1h-1zM362 451h1v1h-1zM371 451h1v1h-1zM432 451h1v1h-1zM445 451h1v1h-1zM448 451h1v1h-1zM457 451h1v1h-1zM502 451h1v1h-1zM521 451h1v1h-1zM524 451h1v1h-1zM533 451h1v1h-1zM590 451h1v1h-1zM597 451h1v1h-1zM600 451h1v1h-1zM609 451h1v1h-1zM133 452h1v1h-1zM140 452h1v1h-1zM142 452h1v1h-1zM152 452h1v1h-1zM197 452h1v1h-1zM216 452h1v1h-1zM218 452h1v1h-1zM228 452h1v1h-1zM279 452h1v1h-1zM292 452h1v1h-1zM294 452h1v1h-1zM304 452h1v1h-1zM359 452h1v1h-1zM361 452h1v1h-1zM371 452h1v1h-1zM432 452h1v1h-1zM445 452h1v1h-1zM447 452h1v1h-1zM457 452h1v1h-1zM502 452h1v1h-1zM521 452h1v1h-1zM523 452h1v1h-1zM533 452h1v1h-1zM590 452h1v1h-1zM597 452h1v1h-1zM599 452h1v1h-1zM609 452h1v1h-1zM133 453h1v1h-1zM140 453h2v1h-2zM152 453h1v1h-1zM197 453h1v1h-1zM216 453h2v1h-2zM228 453h1v1h-1zM279 453h1v1h-1zM292 453h2v1h-2zM304 453h1v1h-1zM359 453h2v1h-2zM371 453h1v1h-1zM432 453h1v1h-1zM445 453h2v1h-2zM457 453h1v1h-1zM502 453h1v1h-1zM521 453h2v1h-2zM533 453h1v1h-1zM590 453h1v1h-1zM597 453h2v1h-2zM609 453h1v1h-1zM121 454h1v1h-1zM133 454h1v1h-1zM140 454h1v1h-1zM152 454h1v1h-1zM197 454h1v1h-1zM216 454h1v1h-1zM228 454h1v1h-1zM279 454h1v1h-1zM292 454h1v1h-1zM304 454h1v1h-1zM359 454h1v1h-1zM371 454h1v1h-1zM432 454h1v1h-1zM445 454h1v1h-1zM457 454h1v1h-1zM502 454h1v1h-1zM521 454h1v1h-1zM533 454h1v1h-1zM578 454h1v1h-1zM590 454h1v1h-1zM597 454h1v1h-1zM609 454h1v1h-1zM122 455h1v1h-1zM132 455h1v1h-1zM141 455h1v1h-1zM151 455h1v1h-1zM197 455h1v1h-1zM217 455h1v1h-1zM227 455h1v1h-1zM279 455h1v1h-1zM293 455h1v1h-1zM303 455h1v1h-1zM360 455h1v1h-1zM370 455h1v1h-1zM432 455h1v1h-1zM446 455h1v1h-1zM456 455h1v1h-1zM502 455h1v1h-1zM522 455h1v1h-1zM532 455h1v1h-1zM579 455h1v1h-1zM589 455h1v1h-1zM598 455h1v1h-1zM608 455h1v1h-1zM123 456h1v1h-1zM131 456h1v1h-1zM142 456h1v1h-1zM150 456h1v1h-1zM197 456h1v1h-1zM218 456h1v1h-1zM226 456h1v1h-1zM279 456h1v1h-1zM294 456h1v1h-1zM302 456h1v1h-1zM361 456h1v1h-1zM369 456h1v1h-1zM432 456h1v1h-1zM447 456h1v1h-1zM455 456h1v1h-1zM502 456h1v1h-1zM523 456h1v1h-1zM531 456h1v1h-1zM580 456h1v1h-1zM588 456h1v1h-1zM599 456h1v1h-1zM607 456h1v1h-1zM124 457h7v1h-7zM143 457h7v1h-7zM197 457h13v1h-13zM219 457h7v1h-7zM276 457h7v1h-7zM295 457h7v1h-7zM362 457h7v1h-7zM429 457h7v1h-7zM448 457h7v1h-7zM502 457h13v1h-13zM524 457h7v1h-7zM581 457h7v1h-7zM600 457h7v1h-7z"/>
<path fill="#ff0000" d="M129 45h178v1h-178zM306 46h10v1h-10zM315 47h5v1h-5zM319 48h4v1h-4zM322 49h3v1h-3zM324 50h2v1h-2zM325 51h3v1h-3zM327 52h2v1h-2zM328 53h2v1h-2zM329 54h2v1h-2zM330 55h1v1h-1zM232 56h1v1h-1zM244 56h1v1h-1zM274 56h3v1h-3zM330 56h2v1h-2zM352 56h1v1h-1zM232 57h1v1h-1zM244 57h1v1h-1zM276 57h1v1h-1zM331 57h4v1h-4zM352 57h1v1h-1zM232 58h1v1h-1zM244 58h1v1h-1zM276 58h1v1h-1zM332 58h3v1h-3zM352 58h1v1h-1zM232 59h1v1h-1zM244 59h1v1h-1zM276 59h1v1h-1zM332 59h3v1h-3zM352 59h1v1h-1zM232 60h1v1h-1zM244 60h1v1h-1zM276 60h1v1h-1zM333 60h2v1h-2zM352 60h1v1h-1zM232 61h1v1h-1zM244 61h1v1h-1zM276 61h1v1h-1zM334 61h1v1h-1zM352 61h1v1h-1zM232 62h1v1h-1zM244 62h1v1h-1zM254 62h7v1h-7zM276 62h1v1h-1zM292 62h7v1h-7zM311 62h7v1h-7zM334 62h2v1h-2zM348 62h9v1h-9zM365 62h1v1h-1zM377 62h1v1h-1zM403 62h1v1h-1zM415 62h1v1h-1zM233 63h1v1h-1zM243 63h1v1h-1zM253 63h1v1h-1zM261 63h1v1h-1zM276 63h1v1h-1zM291 63h1v1h-1zM299 63h1v1h-1zM310 63h1v1h-1zM318 63h1v1h-1zM331 63h3v1h-3zM335 63h1v1h-1zM352 63h1v1h-1zM365 63h1v1h-1zM377 63h1v1h-1zM403 63h1v1h-1zM415 63h1v1h-1zM233 64h1v1h-1zM243 64h1v1h-1zM252 64h1v1h-1zM262 64h1v1h-1zM276 64h1v1h-1zM290 64h1v1h-1zM300 64h1v1h-1zM309 64h1v1h-1zM319 64h1v1h-1zM333 64h1v1h-1zM335 64h1v1h-1zM352 64h1v1h-1zM365 64h1v1h-1zM377 64h1v1h-1zM403 64h1v1h-1zM415 64h1v1h-1zM234 65h1v1h-1zM242 65h1v1h-1zM251 65h1v1h-1zM263 65h1v1h-1zM276 65h1v1h-1zM289 65h1v1h-1zM301 65h1v1h-1zM308 65h1v1h-1zM320 65h1v1h-1zM333 65h1v1h-1zM335 65h2v1h-2zM352 65h1v1h-1zM365 65h1v1h-1zM377 65h1v1h-1zM403 65h1v1h-1zM415 65h1v1h-1zM459 65h90v1h-90zM234 66h1v1h-1zM242 66h1v1h-1zM251 66h1v1h-1zM263 66h1v1h-1zM276 66h1v1h-1zM289 66h1v1h-1zM301 66h1v1h-1zM308 66h1v1h-1zM333 66h1v1h-1zM336 66h1v1h-1zM352 66h1v1h-1zM365 66h1v1h-1zM377 66h1v1h-1zM403 66h1v1h-1zM415 66h1v1h-1zM235 67h1v1h-1zM241 67h1v1h-1zM251 67h1v1h-1zM263 67h1v1h-1zM276 67h1v1h-1zM289 67h1v1h-1zM301 67h1v1h-1zM308 67h1v1h-1zM333 67h1v1h-1zM336 67h2v1h-2zM352 67h1v1h-1zM365 67h1v1h-1zM377 67h1v1h-1zM403 67h1v1h-1zM415 67h1v1h-1zM235 68h1v1h-1zM241 68h1v1h-1zM251 68h13v1h-13zM276 68h1v1h-1zM289 68h1v1h-1zM301 68h1v1h-1zM308 68h1v1h-1zM333 68h1v1h-1zM337 68h1v1h-1zM352 68h1v1h-1zM365 68h1v1h-1zM377 68h1v1h-1zM403 68h1v1h-1zM415 68h1v1h-1zM236 69h1v1h-1zM240 69h1v1h-1zM251 69h1v1h-1zM276 69h1v1h-1zM289 69h1v1h-1zM301 69h1v1h-1zM308 69h1v1h-1zM333 69h1v1h-1zM337 69h1v1h-1zM352 69h1v1h-1zM365 69h1v1h-1zM377 69h1v1h-1zM403 69h1v1h-1zM415 69h1v1h-1zM236 70h1v1h-1zM240 70h1v1h-1zM251 70h1v1h-1zM276 70h1v1h-1zM289 70h1v1h-1zM301 70h1v1h-1zM308 70h1v1h-1zM333 70h1v1h-1zM337 70h2v1h-2zM352 70h1v1h-1zM366 70h1v1h-1zM377 70h1v1h-1zM403 70h1v1h-1zM415 70h1v1h-1zM237 71h1v1h-1zM239 71h1v1h-1zM251 71h1v1h-1zM276 71h1v1h-1zM289 71h1v1h-1zM301 71h1v1h-1zM308 71h1v1h-1zM320 71h1v1h-1zM333 71h1v1h-1zM338 71h1v1h-1zM352 71h1v1h-1zM358 71h1v1h-1zM367 71h1v1h-1zM377 71h1v1h-1zM403 71h1v1h-1zM415 71h1v1h-1zM237 72h1v1h-1zM239 72h1v1h-1zM252 72h1v1h-1zM276 72h1v1h-1zM290 72h1v1h-1zM300 72h1v1h-1zM309 72h1v1h-1zM319 72h1v1h-1zM333 72h1v1h-1zM338 72h1v1h-1zM353 72h1v1h-1zM357 72h1v1h-1zM368 72h10v1h-10zM404 72h1v1h-1zM414 72h2v1h-2zM238 73h1v1h-1zM253 73h1v1h-1zM276 73h1v1h-1zM291 73h1v1h-1zM299 73h1v1h-1zM310 73h1v1h-1zM318 73h1v1h-1zM333 73h1v1h-1zM338 73h2v1h-2zM354 73h1v1h-1zM356 73h1v1h-1zM377 73h1v1h-1zM405 73h1v1h-1zM413 73h1v1h-1zM415 73h1v1h-1zM238 74h1v1h-1zM254 74h9v1h-9zM273 74h7v1h-7zM292 74h7v1h-7zM311 74h7v1h-7zM330 74h7v1h-7zM339 74h1v1h-1zM355 74h1v1h-1zM377 74h1v1h-1zM406 74h7v1h-7zM415 74h1v1h-1zM339 75h1v1h-1zM377 75h1v1h-1zM339 76h1v1h-1zM377 76h1v1h-1zM339 77h2v1h-2zM365 77h1v1h-1zM377 77h1v1h-1zM340 78h1v1h-1zM366 78h1v1h-1zM376 78h1v1h-1zM340 79h1v1h-1zM367 79h1v1h-1zM375 79h1v1h-1zM340 80h1v1h-1zM368 80h7v1h-7zM340 81h2v1h-2zM341 82h1v1h-1zM341 83h1v1h-1zM341 84h1v1h-1zM341 85h1v1h-1zM342 86h1v1h-1zM342 87h1v1h-1zM342 88h1v1h-1zM342 89h1v1h-1zM342 90h1v1h-1zM343 91h1v1h-1zM343 92h1v1h-1zM343 93h1v1h-1zM343 94h1v1h-1zM343 95h1v1h-1zM343 96h1v1h-1zM344 97h1v1h-1zM344 98h1v1h-1zM344 99h1v1h-1zM344 100h1v1h-1zM344 101h1v1h-1zM344 102h1v1h-1zM345 103h1v1h-1zM345 104h1v1h-1zM345 105h1v1h-1zM345 106h1v1h-1zM345 107h1v1h-1zM345 108h1v1h-1zM345 109h1v1h-1zM345 110h2v1h-2zM346 111h1v1h-1zM346 112h1v1h-1zM346 113h1v1h-1zM346 114h1v1h-1zM346 115h1v1h-1zM346 116h1v1h-1zM346 117h1v1h-1zM347 118h1v1h-1zM347 119h1v1h-1zM347 120h1v1h-1zM347 121h1v1h-1zM347 122h1v1h-1zM347 123h1v1h-1zM347 124h1v1h-1zM347 125h1v1h-1zM347 126h1v1h-1zM348 127h1v1h-1zM348 128h1v1h-1zM348 129h1v1h-1zM348 130h1v1h-1zM348 131h1v1h-1zM348 132h1v1h-1zM348 133h1v1h-1zM348 134h1v1h-1zM348 135h1v1h-1zM349 136h1v1h-1zM349 137h1v1h-1zM349 138h1v1h-1zM349 139h1v1h-1zM349 140h1v1h-1zM349 141h1v1h-1zM349 142h1v1h-1zM349 143h1v1h-1zM349 144h1v1h-1zM349 145h1v1h-1zM349 146h1v1h-1zM350 147h1v1h-1zM350 148h1v1h-1zM350 149h1v1h-1zM350 150h1v1h-1zM350 151h1v1h-1zM350 152h1v1h-1zM350 153h1v1h-1zM350 154h1v1h-1zM350 155h1v1h-1zM350 156h1v1h-1zM350 157h1v1h-1zM351 158h1v1h-1zM351 159h1v1h-1zM351 160h1v1h-1zM351 161h1v1h-1zM351 162h1v1h-1zM351 163h1v1h-1zM351 164h1v1h-1zM351 165h1v1h-1zM351 166h1v1h-1zM351 167h1v1h-1zM351 168h1v1h-1zM351 169h1v1h-1zM351 170h1v1h-1zM352 171h1v1h-1zM352 172h1v1h-1zM352 173h1v1h-1zM352 174h1v1h-1zM352 175h1v1h-1zM352 176h1v1h-1zM352 177h1v1h-1zM352 178h1v1h-1zM352 179h1v1h-1zM352 180h1v1h-1zM352 181h1v1h-1zM352 182h1v1h-1zM352 183h1v1h-1zM353 184h1v1h-1zM353 185h1v1h-1zM353 186h1v1h-1zM353 187h1v1h-1zM353 188h1v1h-1zM353 189h1v1h-1zM353 190h1v1h-1zM353 191h1v1h-1zM353 192h1v1h-1zM353 193h1v1h-1zM353 194h1v1h-1zM353 195h1v1h-1zM353 196h1v1h-1zM353 197h1v1h-1zM353 198h1v1h-1zM354 199h1v1h-1zM354 200h1v1h-1zM354 201h1v1h-1zM354 202h1v1h-1zM354 203h1v1h-1zM354 204h1v1h-1zM354 205h1v1h-1zM354 206h1v1h-1zM354 207h1v1h-1zM354 208h1v1h-1zM354 209h1v1h-1zM354 210h1v1h-1zM354 211h1v1h-1zM354 212h1v1h-1zM355 213h1v1h-1zM355 214h1v1h-1zM355 215h1v1h-1zM355 216h1v1h-1zM355 217h1v1h-1zM355 218h1v1h-1zM355 219h1v1h-1zM355 220h1v1h-1zM355 221h1v1h-1zM355 222h1v1h-1zM355 223h1v1h-1zM355 224h1v1h-1zM355 225h1v1h-1zM355 226h1v1h-1zM355 227h1v1h-1zM355 228h1v1h-1zM355 229h1v1h-1zM356 230h1v1h-1zM356 231h1v1h-1zM356 232h1v1h-1zM356 233h1v1h-1zM356 234h1v1h-1zM356 235h1v1h-1zM356 236h1v1h-1zM356 237h1v1h-1zM356 238h1v1h-1zM356 239h1v1h-1zM356 240h1v1h-1zM356 241h1v1h-1zM356 242h1v1h-1zM356 243h1v1h-1zM356 244h1v1h-1zM357 245h1v1h-1zM357 246h1v1h-1zM357 247h1v1h-1zM357 248h1v1h-1zM357 249h1v1h-1zM357 250h1v1h-1zM357 251h1v1h-1zM357 252h1v1h-1zM357 253h1v1h-1zM357 254h1v1h-1zM357 255h1v1h-1zM357 256h1v1h-1zM357 257h1v1h-1zM357 258h1v1h-1zM357 259h1v1h-1zM357 260h1v1h-1zM357 261h1v1h-1zM357 262h1v1h-1zM358 263h1v1h-1zM358 264h1v1h-1zM358 265h1v1h-1zM358 266h1v1h-1zM358 267h1v1h-1zM358 268h1v1h-1zM358 269h1v1h-1zM358 270h1v1h-1zM358 271h1v1h-1zM358 272h1v1h-1zM358 273h1v1h-1zM358 274h1v1h-1zM358 275h1v1h-1zM358 276h1v1h-1zM358 277h1v1h-1zM358 278h1v1h-1zM358 279h1v1h-1zM358 280h1v1h-1zM359 281h1v1h-1zM359 282h1v1h-1zM359 283h1v1h-1zM359 284h1v1h-1zM359 285h1v1h-1zM359 286h1v1h-1zM359 287h1v1h-1zM359 288h1v1h-1zM359 289h1v1h-1zM359 290h1v1h-1zM359 291h1v1h-1zM359 292h1v1h-1zM359 293h1v1h-1zM359 294h1v1h-1zM359 295h1v1h-1zM360 296h1v1h-1zM360 297h1v1h-1zM360 298h1v1h-1zM360 299h1v1h-1zM360 300h1v1h-1zM360 301h1v1h-1zM360 302h1v1h-1zM360 303h1v1h-1zM360 304h1v1h-1zM360 305h1v1h-1zM360 306h1v1h-1zM360 307h1v1h-1zM360 308h1v1h-1zM360 309h1v1h-1zM360 310h1v1h-1zM360 311h1v1h-1zM360 312h1v1h-1zM361 313h1v1h-1zM361 314h1v1h-1zM361 315h1v1h-1zM361 316h1v1h-1zM361 317h1v1h-1zM361 318h1v1h-1zM361 319h1v1h-1zM361 320h1v1h-1zM361 321h1v1h-1zM361 322h1v1h-1zM361 323h1v1h-1zM361 324h1v1h-1zM361 325h1v1h-1zM361 326h1v1h-1zM362 327h1v1h-1zM362 328h1v1h-1zM362 329h1v1h-1zM362 330h1v1h-1zM362 331h1v1h-1zM362 332h1v1h-1zM362 333h1v1h-1zM362 334h1v1h-1zM362 335h1v1h-1zM362 336h1v1h-1zM362 337h1v1h-1zM362 338h1v1h-1zM362 339h1v1h-1zM362 340h1v1h-1zM363 341h1v1h-1zM363 342h1v1h-1zM363 343h1v1h-1zM363 344h1v1h-1zM363 345h1v1h-1zM363 346h1v1h-1zM363 347h1v1h-1zM363 348h1v1h-1zM363 349h1v1h-1zM363 350h1v1h-1zM363 351h1v1h-1zM364 352h1v1h-1zM364 353h1v1h-1zM364 354h1v1h-1zM364 355h1v1h-1zM364 356h1v1h-1zM364 357h1v1h-1zM364 358h1v1h-1zM364 359h1v1h-1zM364 360h1v1h-1zM364 361h1v1h-1zM365 362h1v1h-1zM365 363h1v1h-1zM365 364h1v1h-1zM365 365h1v1h-1zM365 366h1v1h-1zM365 367h1v1h-1zM365 368h1v1h-1zM365 369h1v1h-1zM366 370h1v1h-1zM366 371h1v1h-1zM366 372h1v1h-1zM366 373h1v1h-1zM366 374h1v1h-1zM366 375h1v1h-1zM366 376h2v1h-2zM367 377h1v1h-1zM367 378h1v1h-1zM367 379h1v1h-1zM367 380h1v1h-1zM367 381h2v1h-2zM368 382h1v1h-1zM368 383h1v1h-1zM368 384h1v1h-1zM368 385h2v1h-2zM369 386h1v1h-1zM369 387h1v1h-1zM369 388h2v1h-2zM370 389h1v1h-1zM370 390h2v1h-2zM371 391h1v1h-1zM371 392h2v1h-2zM372 393h2v1h-2zM373 394h2v1h-2zM374 395h4v1h-4zM377 396h210v1h-210z"/>
</svg></body></html>
